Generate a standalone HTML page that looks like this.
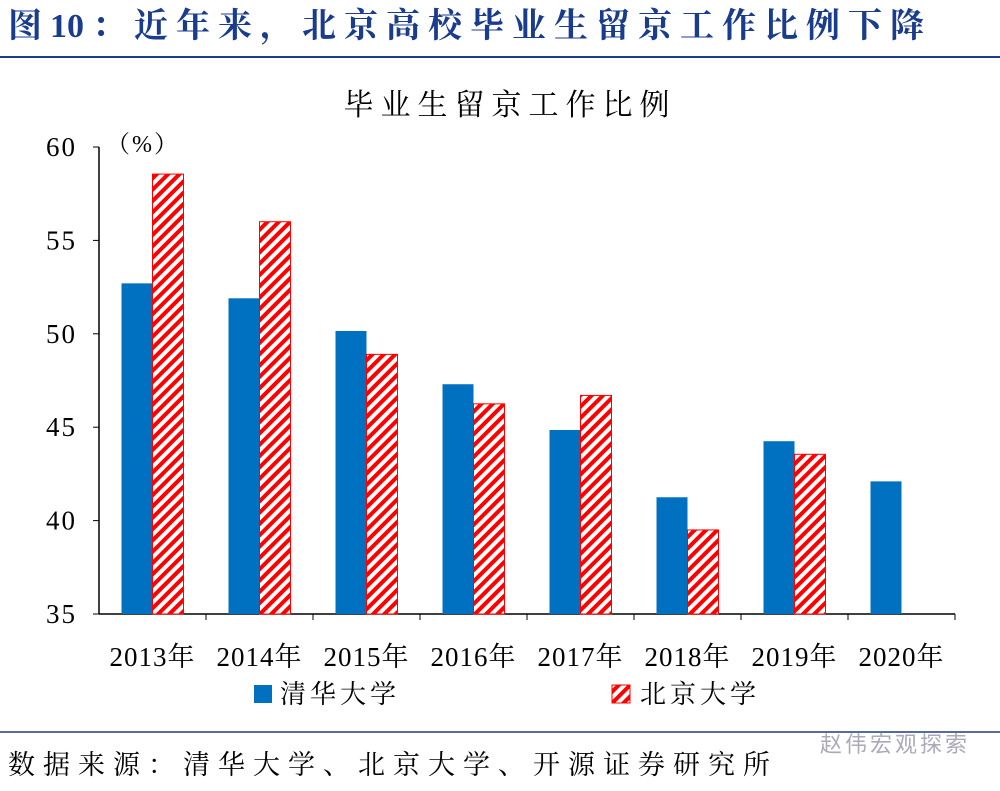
<!DOCTYPE html>
<html><head><meta charset="utf-8"><style>
body{margin:0;background:#fff;width:1000px;height:786px;overflow:hidden;font-family:"Liberation Serif","Noto Serif CJK SC",serif}
</style></head><body>
<svg width="1000" height="786" xmlns="http://www.w3.org/2000/svg">
<defs>
<pattern id="stripe" width="8" height="8" patternUnits="userSpaceOnUse" patternTransform="rotate(-45)">
<rect width="8" height="8" fill="#fff"/><rect width="8" height="4" fill="#ff0000"/>
</pattern>
</defs>
<text x="8" y="37" font-size="34" font-weight="bold" fill="#1a3c8c" letter-spacing="8" font-family="Liberation Serif, Noto Serif CJK SC, serif">图<tspan letter-spacing="0">1</tspan>0：近年来，北京高校毕业生留京工作比例下降</text>
<line x1="0" y1="57" x2="1000" y2="57" stroke="#1a3c8c" stroke-width="2"/>
<text x="510" y="115" font-size="30" text-anchor="middle" letter-spacing="7" fill="#000" font-family="Liberation Serif, Noto Serif CJK SC, serif">毕业生留京工作比例</text>
<text x="106" y="152" font-size="24" fill="#000" letter-spacing="2">（%）</text>
<g id="plot"></g>
<rect x="254" y="685" width="18" height="18" fill="#0070c0"/>
<text x="280" y="703" font-size="26" letter-spacing="4" font-family="Liberation Serif, Noto Serif CJK SC, serif">清华大学</text>
<rect x="612" y="685" width="18" height="18" fill="url(#stripe)" stroke="#ff0000"/>
<text x="640" y="703" font-size="26" letter-spacing="4" font-family="Liberation Serif, Noto Serif CJK SC, serif">北京大学</text>
<line x1="0" y1="732" x2="1000" y2="732" stroke="#1a3c8c" stroke-width="1.5"/>
<text x="8" y="774" font-size="27" letter-spacing="8" font-family="Liberation Serif, Noto Serif CJK SC, serif">数据来源：清华大学、北京大学、开源证券研究所</text>
<text x="820" y="752" font-size="22" fill="#aab" letter-spacing="3" font-family="Liberation Sans, Noto Sans CJK SC, sans-serif">赵伟宏观探索</text>
</svg>
<script>
const categories=["2013年","2014年","2015年","2016年","2017年","2018年","2019年","2020年"];
const tsinghua=[52.7,51.9,50.15,47.3,44.85,41.25,44.25,42.1];
const pku=[58.55,56.0,48.9,46.25,46.7,39.5,43.55,null];
const yTicks=[35,40,45,50,55,60];
const NS="http://www.w3.org/2000/svg";
const g=document.getElementById('plot');
const x0=99,x1=955,yTop=147,yBot=614,vMin=35,vMax=60;
const y=v=>yBot-(v-vMin)/(vMax-vMin)*(yBot-yTop);
const band=(x1-x0)/categories.length;
function el(t,a){const e=document.createElementNS(NS,t);for(const k in a)e.setAttribute(k,a[k]);g.appendChild(e);return e;}
let ax=el('line',{x1:x0,y1:yTop,x2:x0,y2:yBot,stroke:'#000','stroke-width':1.5});


let bx=el('line',{x1:x0,y1:yBot,x2:x1,y2:yBot,stroke:'#000','stroke-width':1.5});


yTicks.forEach(v=>{
 let t=el('line',{x1:x0-6,y1:y(v),x2:x0,y2:y(v),stroke:'#000'});
 
 
 let l=el('text',{x:x0-22,y:y(v)+9,'font-size':27,'text-anchor':'end','letter-spacing':2});
 l.textContent=v;
 
 
});
categories.forEach((c,i)=>{
 const cx=x0+band*(i+0.5);
 let t=el('line',{x1:x0+band*(i+1),y1:yBot,x2:x0+band*(i+1),y2:yBot+6,stroke:'#000'});
 
 
 let l=el('text',{x:cx,y:yBot+52,'font-size':27,'text-anchor':'middle','letter-spacing':1,'font-family':'Liberation Serif, Noto Serif CJK SC, serif'});
 l.textContent=c;
 
 
 const w=31;
 if(tsinghua[i]!=null){
  let b=el('rect',{x:cx-w,y:y(tsinghua[i]),width:w,height:yBot-y(tsinghua[i]),fill:'#0070c0'});
  
  
 }
 if(pku[i]!=null){
  let b=el('rect',{x:cx,y:y(pku[i]),width:w,height:yBot-y(pku[i]),fill:'url(#stripe)',stroke:'#ff0000','stroke-width':1});
  
  
 }
});
</script>
</body></html>
